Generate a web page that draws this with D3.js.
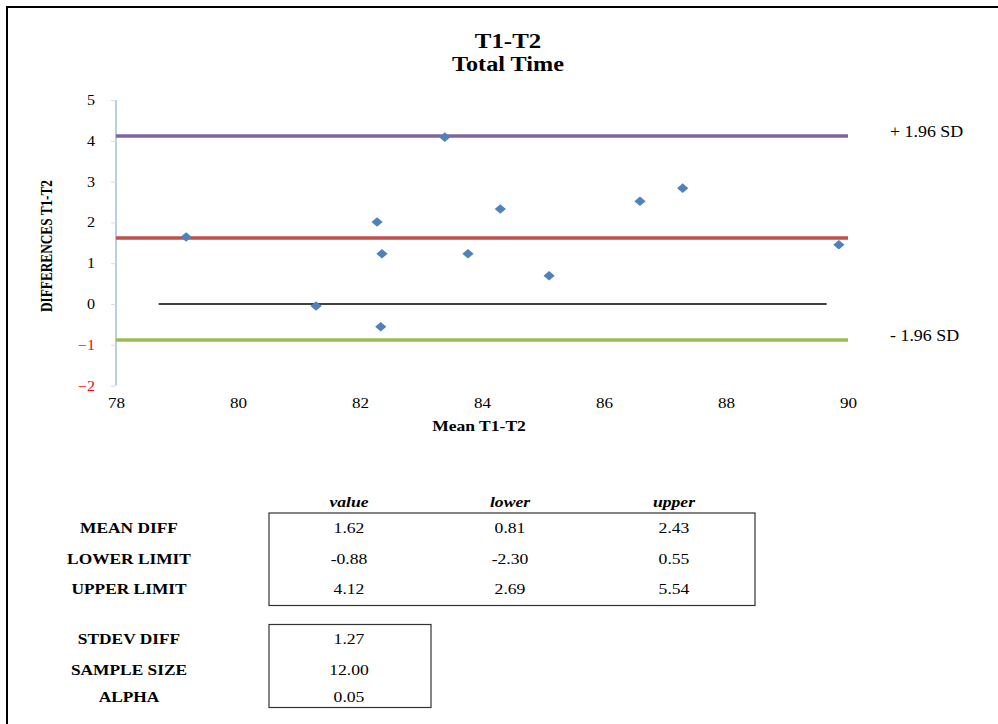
<!DOCTYPE html>
<html><head><meta charset="utf-8">
<script src="https://cdn.jsdelivr.net/npm/d3@7"></script>
</head><body style="margin:0;background:#fff">
<script>
const meanVals = [79.15, 81.28, 82.28, 82.36, 82.34, 83.39, 83.77, 84.30, 85.10, 86.59, 87.29, 89.85];
const diffVals = [1.64, -0.05, 2.01, 1.23, -0.56, 4.09, 1.23, 2.33, 0.69, 2.52, 2.84, 1.45];
const xTicks = [78, 80, 82, 84, 86, 88, 90];
const yTicks = [-2, -1, 0, 1, 2, 3, 4, 5];
const meanDiff = 1.62, lowerLimit = -0.88, upperLimit = 4.12;
const zeroLineX = [78.7, 89.65];
const tableCols = ["value", "lower", "upper"];
const tableRows = ["MEAN DIFF", "LOWER LIMIT", "UPPER LIMIT"];
const tableVals = [["1.62", "0.81", "2.43"], ["-0.88", "-2.30", "0.55"], ["4.12", "2.69", "5.54"]];
const statRows = ["STDEV DIFF", "SAMPLE SIZE", "ALPHA"];
const statVals = ["1.27", "12.00", "0.05"];

const FONT = "Liberation Serif";
const W = 998, H = 724;
const svg = d3.select("body").append("svg").attr("width", W).attr("height", H)
  .style("display","block").attr("font-family", FONT);
svg.append("path").attr("d", `M7,${H+2} L7,7 L${W+2},7`).attr("fill","none").attr("stroke","#000").attr("stroke-width",2);

const x = d3.scaleLinear().domain([78, 90]).range([116, 848]);
const y = d3.scaleLinear().domain([-2, 5]).range([385.6, 100]);

// stretched text helper (the reference text is widened horizontally)
function txt(xp, yp, s, size, opts = {}) {
  const sx = opts.sx || 1.26;
  return svg.append("text").attr("transform", `translate(${xp},${yp}) scale(${sx},1)`)
    .attr("font-family", FONT).attr("font-size", size)
    .attr("text-anchor", opts.anchor || "middle").attr("font-weight", opts.bold ? "bold" : "normal")
    .attr("font-style", opts.italic ? "italic" : "normal").attr("fill", opts.fill || "#000").text(s);
}

// title
txt(508, 48, "T1-T2", 22, {bold: true, sx: 1.13});
txt(508, 71, "Total Time", 22, {bold: true, sx: 1.1});

// y axis
const yAxis = d3.axisLeft(y).tickValues(yTicks).tickSize(5).tickPadding(16).tickFormat(d3.format("d"));
const gy = svg.append("g").attr("transform","translate(116,0)").call(yAxis).attr("font-family", FONT).attr("font-size",14);
gy.select(".domain").attr("stroke","#B9CDE5").attr("stroke-width",2).attr("d","M0,100V385.6");
gy.selectAll(".tick line").attr("stroke","#D0DCEC");
gy.selectAll(".tick text").attr("fill", d => d < 0 ? "#FF0000" : "#000")
  .attr("x", -21 / 1.15).attr("transform", "scale(1.15,1)");

// x axis (no visible line)
const xAxis = d3.axisBottom(x).tickValues(xTicks).tickSize(0).tickPadding(12).tickFormat(d3.format("d"));
const gx = svg.append("g").attr("transform","translate(0,385.6)").call(xAxis).attr("font-family", FONT).attr("font-size",14);
gx.select(".domain").remove();
gx.selectAll(".tick text").attr("fill","#000").attr("transform", "scale(1.22,1)");

// axis titles
txt(479, 431, "Mean T1-T2", 15, {bold: true, sx: 1.17});
svg.append("text").attr("transform","translate(52,246) rotate(-90)").attr("text-anchor","middle")
  .attr("font-family", FONT).attr("font-weight","bold").attr("font-size",17)
  .attr("textLength",132).attr("lengthAdjust","spacingAndGlyphs").text("DIFFERENCES T1-T2");

// limit lines
const limits = [{v: upperLimit, c: "#8064A2"}, {v: meanDiff, c: "#C0504D"}, {v: lowerLimit, c: "#9BBB59"}];
svg.selectAll("line.lim").data(limits).enter().append("line").attr("class","lim")
  .attr("x1", x(78)).attr("x2", x(90)).attr("y1", d => y(d.v)).attr("y2", d => y(d.v))
  .attr("stroke", d => d.c).attr("stroke-width", 3.5);
svg.append("line").attr("x1", x(zeroLineX[0])).attr("x2", x(zeroLineX[1])).attr("y1", y(0)).attr("y2", y(0))
  .attr("stroke","#000").attr("stroke-width",1.5);

// points
const pts = meanVals.map((m, i) => ({m, d: diffVals[i]}));
svg.selectAll("path.pt").data(pts).enter().append("path").attr("class","pt")
  .attr("d", d3.symbol().type(d3.symbolDiamond2).size(80))
  .attr("transform", d => `translate(${x(d.m)},${y(d.d)}) scale(1,0.85)`)
  .attr("fill","#4F81BD");

// SD labels
txt(890, y(upperLimit) + 1, "+ 1.96 SD", 16, {anchor: "start", sx: 1.12});
txt(890, y(lowerLimit) + 1, "- 1.96 SD", 16, {anchor: "start", sx: 1.12});

// table
const colX = [349, 510, 674];
tableCols.forEach((c, i) => txt(colX[i], 507, c, 14, {bold: true, italic: true}));
svg.append("rect").attr("x",269).attr("y",513).attr("width",486).attr("height",92.5).attr("fill","none").attr("stroke","#333").attr("stroke-width",1.2);
const rowY = [533, 564, 594];
tableRows.forEach((r, i) => {
  txt(129, rowY[i], r, 14, {bold: true, sx: 1.24});
  tableVals[i].forEach((v, j) => txt(colX[j], rowY[i], v, 14));
});
svg.append("rect").attr("x",269).attr("y",624.5).attr("width",162).attr("height",83).attr("fill","none").attr("stroke","#333").attr("stroke-width",1.2);
const statY = [644, 675, 702];
statRows.forEach((r, i) => {
  txt(129, statY[i], r, 14, {bold: true, sx: 1.24});
  txt(349, statY[i], statVals[i], 14);
});
</script>
</body></html>
